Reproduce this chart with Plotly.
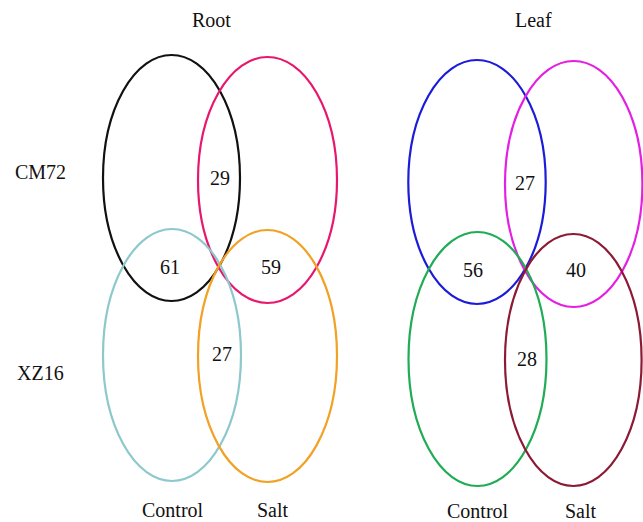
import plotly.graph_objects as go

# Panels, groups and shared-gene counts
panels = ["Root", "Leaf"]
genotypes = ["CM72", "XZ16"]
treatments = ["Control", "Salt"]

# Overlap counts per panel, in order:
# CM72 Control∩Salt, Control CM72∩XZ16, Salt CM72∩XZ16, XZ16 Control∩Salt
root_counts = [29, 61, 59, 27]
leaf_counts = [27, 56, 40, 28]

W, H = 643, 522
FONT = dict(family="Liberation Serif, Times New Roman, serif", size=20, color="#111111")

# Ellipse geometry (pixel space): (cx, cy, rx, ry, colour) for each set
root_sets = [
    (171.5, 178, 68.5, 123, "#111111"),   # CM72 Control
    (267.5, 180, 69.5, 123, "#e8176e"),   # CM72 Salt
    (172.0, 355, 69.0, 126, "#8cc8cc"),   # XZ16 Control
    (267.5, 356, 69.5, 126, "#f2a124"),   # XZ16 Salt
]
leaf_sets = [
    (477.0, 182, 68.7, 122, "#1c1cd8"),   # CM72 Control
    (573.7, 184, 68.7, 123, "#e41fe4"),   # CM72 Salt
    (477.5, 359, 69.0, 127, "#1fac55"),   # XZ16 Control
    (573.3, 360, 68.3, 126, "#8c1a34"),   # XZ16 Salt
]

# Where each count label sits within the overlaps
root_count_pos = [(220, 177.5), (170, 267), (271, 267), (221.7, 354)]
leaf_count_pos = [(525, 182.5), (473, 270), (576, 270), (526.7, 359)]

fig = go.Figure()
# invisible trace so the axes exist
fig.add_trace(go.Scatter(x=[0, W], y=[0, H], mode="markers",
                         marker=dict(opacity=0), hoverinfo="skip", showlegend=False))

shapes = []
for sets in (root_sets, leaf_sets):
    for cx, cy, rx, ry, col in sets:
        shapes.append(dict(type="circle", xref="x", yref="y",
                           x0=cx - rx, x1=cx + rx, y0=cy - ry, y1=cy + ry,
                           line=dict(color=col, width=2.2), fillcolor="rgba(0,0,0,0)"))

annotations = []

def txt(x, y, s):
    annotations.append(dict(x=x, y=y, xref="x", yref="y", text=str(s), showarrow=False,
                            xanchor="center", yanchor="middle", font=FONT))

# panel titles
for name, x in zip(panels, [211, 533]):
    txt(x, 19.5, name)

# genotype row labels
for name, y in zip(genotypes, [171.5, 373]):
    txt(40.5, y, name)

# treatment column labels
for (name, x) in zip(treatments, [172.5, 273]):
    txt(x, 509.5, name)
for (name, x) in zip(treatments, [477.5, 581]):
    txt(x, 510.5, name)

# overlap counts
for v, (x, y) in zip(root_counts, root_count_pos):
    txt(x, y, v)
for v, (x, y) in zip(leaf_counts, leaf_count_pos):
    txt(x, y, v)

fig.update_layout(
    width=W, height=H,
    margin=dict(l=0, r=0, t=0, b=0),
    paper_bgcolor="white", plot_bgcolor="white",
    xaxis=dict(range=[0, W], visible=False, fixedrange=True),
    yaxis=dict(range=[H, 0], visible=False, fixedrange=True),
    shapes=shapes, annotations=annotations,
    showlegend=False,
)

fig.write_html("out.html")
